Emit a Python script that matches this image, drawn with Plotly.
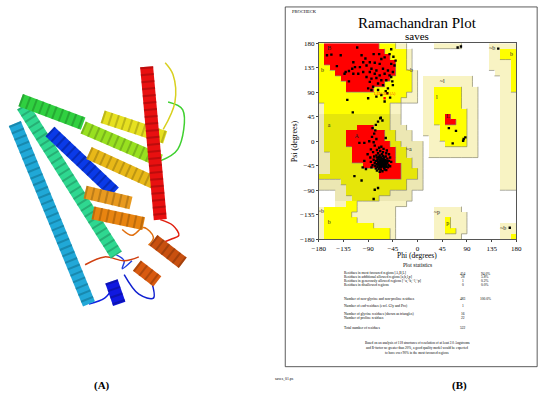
import plotly.graph_objects as go

# Ramachandran region map, 10 degree cells, one string per psi row (top row = psi 170..180)
# run-length coded: . white, p generous, P generous (shaded), y allowed, Y allowed (shaded), r core
REGION_ROWS = [
    "y1 r10 y3 p2 .5 p5 .5 p5",
    "y1 r11 y4 p1 .14 p2 y3",
    "y1 r12 y3 p1 .14 p2 y3",
    "y1 r13 y2 p1 .14 p4 y1",
    "y2 r12 y2 p1 .14 p4 y1",
    "y3 r11 y3 p1 .14 p3 y1",
    "y4 r9 y4 p1 .1 p9 .5 p2 y1",
    "y5 r7 y5 p1 .1 p9 .5 p2 y1",
    "y5 r5 y7 p1 .1 p2 y5 p3 .4 p2 y1",
    "y16 p2 .1 p2 y5 p3 .4 p3",
    "y15 p3 .1 p2 y5 p3 .4 p3",
    "p1 y12 p2 .4 p2 y5 p3 .4 p3",
    "p1 y12 p2 .4 p2 y6 p2 .4 p3",
    "P1 Y12 P2 .4 p2 y2 r1 y3 p2 .4 p3",
    "P1 Y12 P2 .4 p2 y2 r2 y2 p2 .4 p3",
    "P1 Y6 r3 Y3 P3 .3 p3 y5 p2 .4 p3",
    "P1 Y4 r7 Y2 P3 .2 p3 y5 p2 .4 p3",
    "P1 Y4 r7 Y2 P3 .3 p2 y5 p2 .4 p3",
    "P1 Y4 r8 Y2 P4 .1 p3 y4 p2 .4 p3",
    "P1 Y5 r8 Y2 P3 .1 p9 .4 p3",
    "P2 Y4 r8 Y2 P3 .1 p9 .4 p3",
    "P2 Y4 r8 Y3 P2 .14 p3",
    "P2 Y6 r7 Y2 P2 .14 p3",
    "P2 Y9 r4 Y3 P1 .14 p3",
    "Y11 r4 Y3 P1 .14 p3",
    "P4 Y12 P3 .14 p3",
    "P5 Y11 P3 .14 p3",
    ".3 P2 Y8 P4 .19",
    ".3 P3 Y5 P6 .19",
    ".3 p2 y2 p9 .20",
    "p1 y6 p7 .7 p5 .10",
    "p1 y5 p8 .7 p6 .9",
    "p1 y6 p7 .7 p2 y1 p3 .9",
    "p1 y9 p4 .7 p2 y1 p3 .6 p3",
    "p1 y12 p1 .7 p2 y2 p2 .6 p3",
    "p1 y12 p1 .7 p5 .7 p2 y1",
]
REGION_CODES = {".": 0, "p": 1, "P": 2, "y": 3, "Y": 4, "r": 5}
REGION_LEVEL = [0, 1, 1, 2, 2, 3]

REGION_LABELS = ["B", "b", "~b", "~l", "l", "L", "a", "A", "~a", "~b", "b", "~b", "b", "~p", "p", "~b"]
LABEL_PHI = [-161, -173, -14, 45, 35, 55, -161, -111, -16, 136, 171, -176, -161, 35, 55, 156]
LABEL_PSI = [171, 129, 129, 110, 80, 45, 29, 9, -15, 171, 159, -129, -149, -130, -151, -160]

# residues (phi, psi)
BETA_RES = [(-157, 159), (-110, 172), (-48, 169), (-51, 160), (-66, 151), (-60, 154), (-117, 145),
            (-99, 145), (-87, 145), (-78, 144), (-69, 142), (-48, 142), (-42, 139), (-131, 127),
            (-125, 129), (-119, 133), (-114, 136), (-105, 136), (-93, 139), (-84, 133), (-75, 130),
            (-63, 133), (-54, 130), (-45, 127), (-51, 121), (-60, 124), (-69, 121), (-78, 124),
            (-87, 127), (-99, 127), (-108, 124), (-117, 124), (-93, 118), (-84, 115), (-75, 116),
            (-66, 112), (-57, 112), (-48, 118), (-72, 106), (-63, 103), (-81, 100), (-87, 109),
            (-90, 97), (-84, 94), (-72, 94), (-54, 97), (-45, 103), (-128, 76), (-90, 79), (-75, 82),
            (-66, 85), (-60, 73), (-165, 158), (-140, 158), (-147, 138), (-133, 124), (-125, 110),
            (-55, 88), (-50, 80), (-58, 92), (-46, 110), (-40, 148), (-44, 155), (-102, 158),
            (-80, 160), (-95, 152), (-70, 160)]
ALPHA_RES = [(-66, -40), (-63, -42), (-60, -38), (-68, -35), (-70, -44), (-64, -46), (-58, -44),
             (-72, -38), (-62, -33), (-67, -30), (-74, -42), (-61, -49), (-55, -40), (-69, -48),
             (-65, -36), (-71, -32), (-59, -35), (-63, -27), (-76, -36), (-57, -47), (-67, -52),
             (-73, -47), (-60, -42), (-66, -44), (-64, -39), (-70, -40), (-62, -45), (-68, -42),
             (-56, -36), (-74, -30), (-78, -40), (-65, -24), (-61, -30), (-69, -26), (-72, -22),
             (-58, -28), (-53, -44), (-52, -36), (-60, -52), (-64, -55), (-71, -51), (-77, -45),
             (-80, -34), (-75, -26), (-68, -18), (-63, -20), (-57, -22), (-50, -30), (-54, -48),
             (-66, -47), (-63, -36), (-67, -38), (-61, -41), (-69, -37), (-65, -43), (-59, -39),
             (-73, -35), (-62, -37), (-64, -32), (-70, -29), (-66, -33), (-58, -41), (-72, -43),
             (-68, -46), (-60, -46), (-55, -32), (-76, -50), (-82, -44), (-85, -38), (-79, -28),
             (-81, -20), (-74, -16), (-70, -12), (-66, -10), (-62, -14), (-56, -17), (-52, -24),
             (-48, -38), (-50, -46), (-57, -53), (-69, -56), (-74, -54), (-86, -30), (-84, -48),
             (-78, -8), (-80, -2), (-75, 4), (-83, 8), (-79, 14), (-77, 20), (-82, 24), (-76, 30),
             (-72, 36), (-68, 42), (-64, 38), (-58, 6), (-88, 0), (-97, -3), (-106, -3), (-85, -15),
             (-91, -24), (-97, -36), (-100, -48), (-94, -51), (-118, 53), (-67, 43)]
OTHER_RES = [(-115, -64), (-102, -72), (-78, -89), (-72, -86), (-80, -106), (57, 24), (70, 19),
             (87, 7), (84, 4), (64, -4), (83, 1), (73, 172), (79, 174), (147, 170), (168, -159)]
FLAGGED_RES = [(-60, 79)]
FLAGGED_NAME = ["LEU 301 (A)"]

STAT_LABELS = ["Residues in most favoured regions [A,B,L]",
               "Residues in additional allowed regions [a,b,l,p]",
               "Residues in generously allowed regions [~a,~b,~l,~p]",
               "Residues in disallowed regions",
               "Number of non-glycine and non-proline residues",
               "Number of end-residues (excl. Gly and Pro)",
               "Number of glycine residues (shown as triangles)",
               "Number of proline residues",
               "Total number of residues"]
STAT_COUNTS = ["454", "28", "1", "0", "483", "1", "16", "22", "522"]
STAT_PCTS = ["94.0%", "5.8%", "0.2%", "0.0%", "100.0%", "", "", "", ""]
STAT_ROWS_Y = [275, 279, 283, 287, 301, 308, 316, 320, 331]
NOTE_LINES = ["Based on an analysis of 118 structures of resolution of at least 2.0 Angstroms",
              "and R-factor no greater than 20%, a good quality model would be expected",
              "to have over 90% in the most favoured regions"]

# panel A: cartoon helices (image pixel coords), rainbow N->C
HELIX_START = [(8, 122), (16, 104), (14, 98), (44, 130), (78, 126), (98, 115), (84, 152),
               (80, 192), (88, 213), (107, 283), (133, 267), (150, 241), (143, 64)]
HELIX_END = [(84, 306), (112, 256), (78, 122), (110, 192), (157, 160), (162, 136), (150, 182),
             (127, 203), (140, 224), (115, 306), (154, 283), (180, 264), (157, 220)]
HELIX_COLOR = ["#22a8d8", "#30d890", "#30d040", "#0a3ae8", "#98e020", "#e6e020", "#e8b818",
               "#e89a20", "#e88410", "#1018e0", "#d85a10", "#c85010", "#e81010"]
HELIX_SHADE = ["#11708f", "#1f8f5e", "#1f8a2a", "#061f90", "#62951a", "#9a9514", "#9a7a10",
               "#9a6614", "#9a580a", "#0a1090", "#8f3b0a", "#85350a", "#9a0a0a"]
LOOP_X = [[84, 100, 108], [112, 120, 118, 128], [157, 170, 176, 168, 157], [157, 175, 180, 165],
          [120, 135, 150, 148], [80, 100, 120, 135], [160, 172, 170, 162], [118, 128, 140, 150, 145]]
LOOP_Y = [[306, 300, 290], [256, 262, 270, 262], [220, 226, 236, 240, 244], [160, 148, 108, 100],
          [276, 296, 300, 283], [266, 258, 262, 258], [128, 100, 72, 60], [230, 236, 228, 238, 246]]
LOOP_COLOR = ["#1020e0", "#2040e0", "#e02010", "#40d030", "#1020d0", "#d04010", "#d8d020", "#e07010"]

PHI_TICKS = [-180, -135, -90, -45, 0, 45, 90, 135, 180]

W, H = 550, 404
SERIF = "Liberation Serif"


def px(x):
    return x / W


def py(y):
    return 1 - y / H


grid = []
for row in REGION_ROWS:
    cells = []
    for tok in row.split():
        cells += [REGION_CODES[tok[0]]] * int(tok[1:])
    assert len(cells) == 36, row
    grid.append(cells)

cell_phi = list(range(-175, 180, 10))
cell_psi = list(range(175, -180, -10))

# shadow edges (right and lower side of each region step), as PROCHECK draws them
edge_x, edge_y = [], []
for r, cells in enumerate(grid):
    top, bottom = 180 - 10 * r, 170 - 10 * r
    for c, code in enumerate(cells):
        lev = REGION_LEVEL[code]
        right = -170 + 10 * c
        if c < 35 and REGION_LEVEL[cells[c + 1]] < lev:
            edge_x += [right, right, None]
            edge_y += [top, bottom, None]
        if r < 35 and REGION_LEVEL[grid[r + 1][c]] < lev:
            edge_x += [right - 10, right, None]
            edge_y += [bottom, bottom, None]

colors = ["#ffffff", "#f8f3c3", "#ece7b3", "#ffff00", "#e6e60a", "#ff0000"]
scale = []
for i, c in enumerate(colors):
    scale.append([i / 6, c])
    scale.append([(i + 1) / 6, c])

fig = go.Figure()
fig.add_trace(go.Heatmap(z=grid, x=cell_phi, y=cell_psi, colorscale=scale, zmin=-0.5, zmax=5.5,
                         showscale=False, hoverinfo="skip", xgap=0, ygap=0))
fig.add_trace(go.Scatter(x=edge_x, y=edge_y, mode="lines", line=dict(color="#8a8a7a", width=0.7),
                         hoverinfo="skip"))

res = BETA_RES + ALPHA_RES + OTHER_RES
fig.add_trace(go.Scatter(x=[r[0] for r in res], y=[r[1] for r in res], mode="markers",
                         marker=dict(symbol="square", size=2.4, color="black"), hoverinfo="skip"))
fig.add_trace(go.Scatter(x=[r[0] for r in FLAGGED_RES], y=[r[1] for r in FLAGGED_RES],
                         mode="markers+text", text=FLAGGED_NAME, textposition="top center",
                         textfont=dict(family=SERIF, size=4, color="#ff2000"),
                         marker=dict(symbol="square", size=2.4, color="#ff0000"), hoverinfo="skip"))
fig.add_trace(go.Scatter(x=LABEL_PHI, y=LABEL_PSI, mode="text", text=REGION_LABELS,
                         textfont=dict(family=SERIF, size=6, color="#222222"), hoverinfo="skip"))

# panel A cartoon
for xs, ys, c in zip(LOOP_X, LOOP_Y, LOOP_COLOR):
    fig.add_trace(go.Scatter(x=xs, y=ys, mode="lines", line=dict(color=c, width=1.5, shape="spline"),
                             xaxis="x2", yaxis="y2", hoverinfo="skip"))
for (x0, y0), (x1, y1), c, s in zip(HELIX_START, HELIX_END, HELIX_COLOR, HELIX_SHADE):
    fig.add_trace(go.Scatter(x=[x0, x1], y=[y0, y1], mode="lines", line=dict(color=c, width=13),
                             xaxis="x2", yaxis="y2", hoverinfo="skip"))
    fig.add_trace(go.Scatter(x=[x0, x1], y=[y0, y1], mode="lines",
                             line=dict(color=s, width=13, dash="2px,5px"),
                             opacity=0.55, xaxis="x2", yaxis="y2", hoverinfo="skip"))

axis_style = dict(range=[-180, 180], tickvals=PHI_TICKS, ticks="outside", ticklen=2, tickwidth=0.6,
                  showline=True, mirror=True, linecolor="#555555", linewidth=0.8, showgrid=False,
                  zeroline=False, tickfont=dict(family=SERIF, size=7, color="black"), fixedrange=True)


def note(x, y, text, size, anchor="center", **kw):
    return dict(x=px(x), y=py(y), text=text, xanchor=anchor, yanchor="middle", xref="paper",
                yref="paper", showarrow=False, font=dict(family=SERIF, size=size, color="black"), **kw)


ann = [note(420, 19, "Ramachandran Plot", 15),
       note(420, 33, "saves", 11),
       note(290, 8, "PROCHECK", 4.5, "left"),
       note(294, 140, "Psi (degrees)", 8, textangle=-90),
       note(420, 257, "Phi (degrees)", 7.5),
       note(420, 266, "Plot statistics", 5.5)]
for lab, cnt, pct, yy in zip(STAT_LABELS, STAT_COUNTS, STAT_PCTS, STAT_ROWS_Y):
    ann.append(note(343, yy, lab, 3.6, "left"))
    ann.append(note(467, yy, cnt, 3.6))
    if pct:
        ann.append(note(490, yy, pct, 3.6))
for i, line in enumerate(NOTE_LINES):
    ann.append(note(420, 346 + 5 * i, line, 3.4))
ann.append(note(272, 383, "saves_01.ps", 3.8, "left"))
ann.append(note(97, 389, "<b>(A)</b>", 11))
ann.append(note(463, 389, "<b>(B)</b>", 11))

fig.update_layout(
    width=W, height=H, margin=dict(l=0, r=0, t=0, b=0),
    paper_bgcolor="white", plot_bgcolor="white", showlegend=False,
    xaxis=dict(domain=[px(319.3), px(521.7)], **axis_style),
    yaxis=dict(domain=[py(240), py(40)], **axis_style),
    xaxis2=dict(domain=[0, px(270)], range=[0, 270], visible=False, fixedrange=True),
    yaxis2=dict(domain=[0, 1], range=[H, 0], visible=False, fixedrange=True),
    annotations=ann,
    shapes=[dict(type="rect", xref="paper", yref="paper", x0=px(285), x1=px(543), y0=py(370), y1=py(3),
                 line=dict(color="#333333", width=0.8))],
)

fig.write_html("out.html", config={"displayModeBar": False},
               post_script="document.body.style.margin='0px';")
